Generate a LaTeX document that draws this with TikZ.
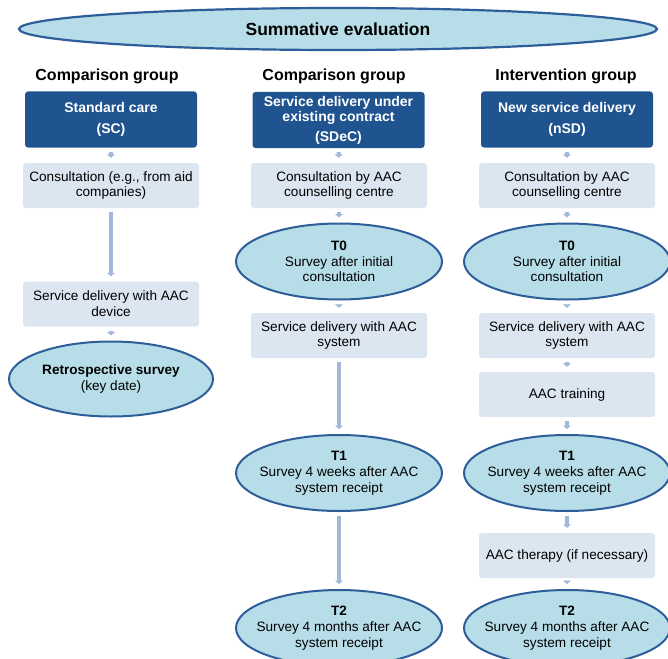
\documentclass[tikz,border=0pt]{standalone}
\usepackage{fontspec}
\setmainfont{Liberation Sans}
\usetikzlibrary{shapes.geometric,arrows.meta}
\definecolor{ellfill}{HTML}{B7DEE8}
\definecolor{elldraw}{HTML}{2E5E9A}
\definecolor{darkbox}{HTML}{1F5490}
\definecolor{lightbox}{HTML}{DCE6F1}
\definecolor{arrowc}{HTML}{A3B7DA}
\tikzset{
  bodyfont/.style={font=\fontsize{13.6}{15.8}\selectfont},
  headbox/.style={rectangle, rounded corners=3pt, fill=darkbox, text=white,
    minimum width=172pt, minimum height=56pt, align=center, inner sep=0pt,
    font=\bfseries\fontsize{14}{14}\selectfont},
  stepbox/.style={rectangle, rounded corners=3pt, fill=lightbox, text=black,
    minimum width=176pt, minimum height=45pt, align=center, inner sep=0pt, bodyfont},
  survey/.style={ellipse, draw=elldraw, line width=2pt, fill=ellfill,
    minimum width=206pt, minimum height=76pt, align=center,
    inner xsep=-40pt, inner ysep=-15pt, bodyfont},
  grouptitle/.style={font=\bfseries\fontsize{16}{16}\selectfont, inner sep=0pt},
  flowarrow/.style={draw=arrowc, line width=4pt,
    -{Triangle[width=8pt,length=3.5pt]}, shorten <=4pt, shorten >=5pt},
}
\begin{document}
\begin{tikzpicture}[x=1pt,y=-1pt]
\clip (0,0) rectangle (668,658);
\useasboundingbox (0,0) rectangle (668,658);

% title
\node[ellipse, draw=elldraw, line width=2.2pt, fill=ellfill, minimum width=638pt,
  minimum height=42pt, inner xsep=-60pt, inner ysep=-5pt,
  font=\bfseries\fontsize{17.5}{17.5}\selectfont]
  (title) at (338,29) {Summative evaluation};

% group titles
\node[grouptitle] (g1) at (107,76) {Comparison group};
\node[grouptitle] (g2) at (334,76) {Comparison group};
\node[grouptitle] (g3) at (566,76) {Intervention group};

% column 1
\node[headbox] (sc) at (111,119.5) {Standard care\\[7pt](SC)};
\node[stepbox] (c1) at (111,185.5) {Consultation (e.g., from aid\\companies)};
\node[stepbox] (s1) at (111,304) {Service delivery with AAC\\device};
\node[survey, minimum width=204pt, minimum height=75pt] (r1) at (111,379)
  {\textbf{Retrospective survey}\\(key date)};

% column 2
\node[headbox] (sdec) at (338.5,120) {Service delivery under\\[1pt]existing contract\\[6pt](SDeC)};
\node[stepbox] (c2) at (339,185.5) {Consultation by AAC\\counselling centre};
\node[survey] (t02) at (339,261.5) {\textbf{T0}\\Survey after initial\\consultation};
\node[stepbox] (s2) at (339,335.5) {Service delivery with AAC\\system};
\node[survey] (t12) at (339,473) {\textbf{T1}\\Survey 4 weeks after AAC\\system receipt};
\node[survey] (t22) at (339,628) {\textbf{T2}\\Survey 4 months after AAC\\system receipt};

% column 3
\node[headbox] (nsd) at (567,119.5) {New service delivery\\[7pt](nSD)};
\node[stepbox] (c3) at (567,185.5) {Consultation by AAC\\counselling centre};
\node[survey] (t03) at (567,261.5) {\textbf{T0}\\Survey after initial\\consultation};
\node[stepbox] (s3) at (567,335.5) {Service delivery with AAC\\system};
\node[stepbox] (tr3) at (567,394.5) {AAC training};
\node[survey] (t13) at (567,473) {\textbf{T1}\\Survey 4 weeks after AAC\\system receipt};
\node[stepbox] (th3) at (567,555.5) {AAC therapy (if necessary)};
\node[survey] (t23) at (567,628) {\textbf{T2}\\Survey 4 months after AAC\\system receipt};

% arrows column 1
\draw[flowarrow] (sc.south) -- (c1.north);
\draw[flowarrow] (c1.south) -- (s1.north);
\draw[flowarrow] (s1.south) -- (r1.north);

% arrows column 2
\draw[flowarrow] (sdec.south) -- (c2.north);
\draw[flowarrow] (c2.south) -- (t02.north);
\draw[flowarrow] (t02.south) -- (s2.north);
\draw[flowarrow] (s2.south) -- (t12.north);
\draw[flowarrow] (t12.south) -- (t22.north);

% arrows column 3
\draw[flowarrow] (nsd.south) -- (c3.north);
\draw[flowarrow] (c3.south) -- (t03.north);
\draw[flowarrow] (t03.south) -- (s3.north);
\draw[flowarrow] (s3.south) -- (tr3.north);
\draw[flowarrow] (tr3.south) -- (t13.north);
\draw[flowarrow] (t13.south) -- (th3.north);
\draw[flowarrow] (th3.south) -- (t23.north);
\end{tikzpicture}
\end{document}
